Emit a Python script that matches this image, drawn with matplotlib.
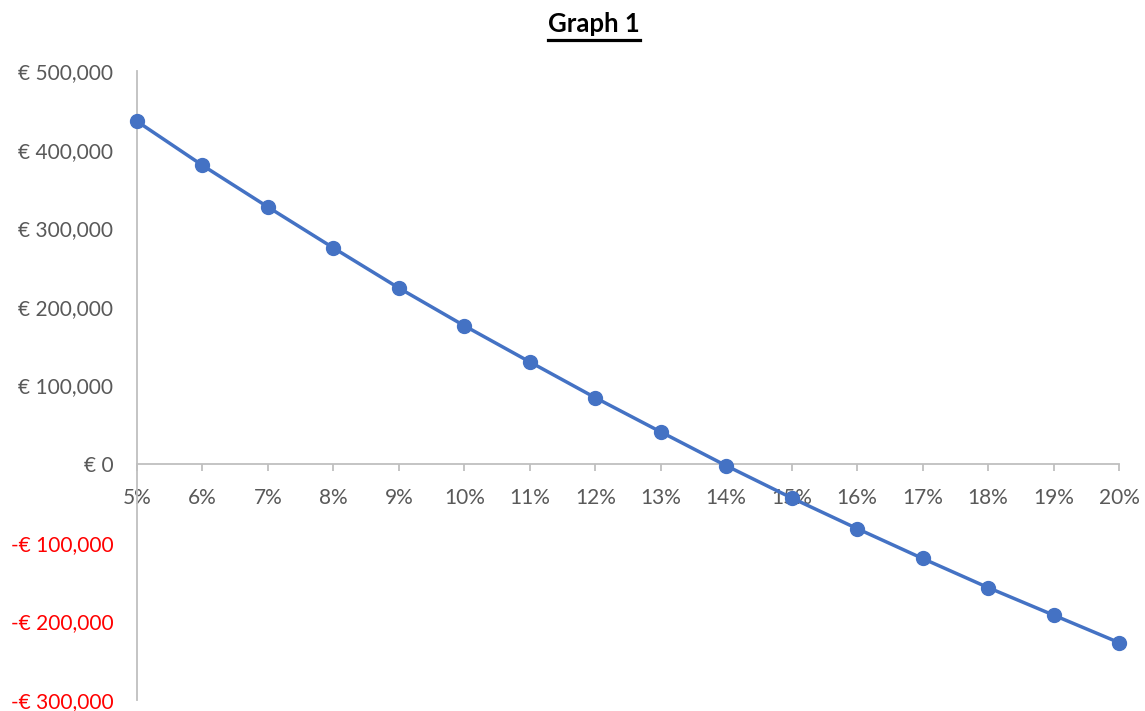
import matplotlib
matplotlib.use("Agg")
import matplotlib.pyplot as plt
from matplotlib.ticker import FuncFormatter

# discount rate vs NPV
rates = ["5%", "6%", "7%", "8%", "9%", "10%", "11%", "12%", "13%", "14%",
         "15%", "16%", "17%", "18%", "19%", "20%"]
npv = [436000, 380000, 327000, 275000, 224000, 176000, 130000, 84500, 41000, -2000,
       -43000, -82000, -120000, -157000, -192000, -227000]
y_ticks = [-300000, -200000, -100000, 0, 100000, 200000, 300000, 400000, 500000]

plt.rcParams["font.family"] = ["Lato", "DejaVu Sans"]

BLUE = "#4472C4"
GREY = "#595959"
AXIS = "#BFBFBF"

fig = plt.figure(figsize=(11.45, 7.11), dpi=100)
ax = fig.add_axes([137 / 1145, 1 - 700 / 711, (1119 - 137) / 1145, (700 - 71) / 711])

xs = list(range(len(rates)))
ax.plot(xs, npv, color=BLUE, linewidth=2.5, marker="o", markersize=10, zorder=5, clip_on=False)

ax.set_xlim(0, len(rates) - 1)
ax.set_ylim(-300000, 500000)
ax.set_xticks(xs)
ax.set_xticklabels(rates)
ax.set_yticks(y_ticks)


def euro(v, pos):
    if v < 0:
        return f"-€ {abs(v):,.0f}"
    return f"€ {v:,.0f}"


ax.yaxis.set_major_formatter(FuncFormatter(euro))

for s in ["top", "right"]:
    ax.spines[s].set_visible(False)
ax.spines["bottom"].set_position(("data", 0))
for s in ["bottom", "left"]:
    ax.spines[s].set_color(AXIS)
    ax.spines[s].set_linewidth(1.3)

ax.tick_params(axis="x", length=5, width=1.3, color=AXIS, labelcolor=GREY, labelsize=15, pad=12.5)
ax.tick_params(axis="y", length=0, labelcolor=GREY, labelsize=15, pad=17)
for lbl, v in zip(ax.get_yticklabels(), y_ticks):
    if v < 0:
        lbl.set_color("#FF0000")

title = fig.text(594 / 1145, 1 - 24 / 711, "Graph 1", ha="center", va="center",
                 fontsize=18.5, fontweight="bold", color="black")
fig.canvas.draw()
bb = title.get_window_extent(renderer=fig.canvas.get_renderer())
uy = 1 - 39.5 / 711
fig.add_artist(plt.Line2D([bb.x0 / 1145, bb.x1 / 1145], [uy, uy], color="black", linewidth=2.3))

fig.savefig("out.png", dpi=100)
